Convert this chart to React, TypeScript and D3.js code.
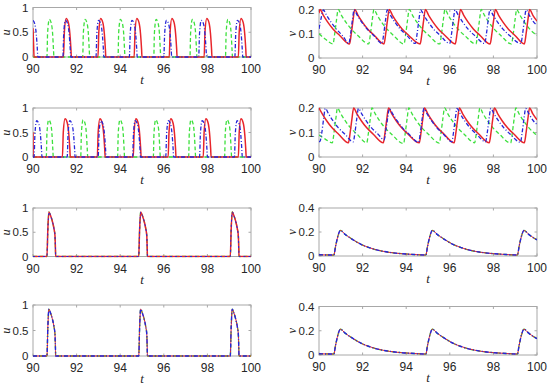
import * as d3 from "d3";

type Pt = [number, number];

// axis ticks
const tTicks = [90, 92, 94, 96, 98, 100];
const uTicks = [0, 0.5, 1];
const vTicksA = [0, 0.1, 0.2];
const vTicksB = [0, 0.2, 0.4];

// row 1 : u
const u1Red: Pt[] = [
  [90, 0.58], [90.03, 0.2], [90.05, 0],
  [91.4, 0], [91.44, 0.51], [91.52, 0.78], [91.62, 0.7], [91.69, 0.48], [91.74, 0.16], [91.76, 0],
  [92.98, 0], [93.02, 0.51], [93.1, 0.78], [93.2, 0.7], [93.27, 0.48], [93.32, 0.16], [93.34, 0],
  [94.64, 0], [94.68, 0.51], [94.76, 0.78], [94.86, 0.7], [94.93, 0.48], [94.98, 0.16], [95.0, 0],
  [96.25, 0], [96.29, 0.51], [96.37, 0.78], [96.47, 0.7], [96.54, 0.48], [96.59, 0.16], [96.61, 0],
  [97.85, 0], [97.89, 0.51], [97.97, 0.78], [98.07, 0.7], [98.14, 0.48], [98.19, 0.16], [98.21, 0],
  [99.42, 0], [99.46, 0.51], [99.54, 0.78], [99.64, 0.7], [99.71, 0.48], [99.76, 0.16], [99.78, 0],
  [100, 0],
];
const u1Blue: Pt[] = [
  [90, 0.74], [90.08, 0.67], [90.15, 0.46], [90.2, 0.15], [90.22, 0],
  [91.37, 0], [91.41, 0.48], [91.49, 0.74], [91.59, 0.67], [91.66, 0.46], [91.71, 0.15], [91.73, 0],
  [92.89, 0], [92.93, 0.48], [93.01, 0.74], [93.11, 0.67], [93.18, 0.46], [93.23, 0.15], [93.25, 0],
  [94.42, 0], [94.46, 0.48], [94.54, 0.74], [94.64, 0.67], [94.71, 0.46], [94.76, 0.15], [94.78, 0],
  [96.0, 0], [96.04, 0.48], [96.12, 0.74], [96.22, 0.67], [96.29, 0.46], [96.34, 0.15], [96.36, 0],
  [97.6, 0], [97.64, 0.48], [97.72, 0.74], [97.82, 0.67], [97.89, 0.46], [97.94, 0.15], [97.96, 0],
  [99.26, 0], [99.3, 0.48], [99.38, 0.74], [99.48, 0.67], [99.55, 0.46], [99.6, 0.15], [99.62, 0],
  [100, 0],
];
const u1Green: Pt[] = [
  [90, 0],
  [90.64, 0], [90.67, 0.49], [90.75, 0.76], [90.84, 0.68], [90.9, 0.47], [90.94, 0.15], [90.96, 0],
  [92.28, 0], [92.31, 0.49], [92.39, 0.76], [92.48, 0.68], [92.54, 0.47], [92.58, 0.15], [92.6, 0],
  [93.9, 0], [93.93, 0.49], [94.01, 0.76], [94.1, 0.68], [94.16, 0.47], [94.2, 0.15], [94.22, 0],
  [95.54, 0], [95.57, 0.49], [95.65, 0.76], [95.74, 0.68], [95.8, 0.47], [95.84, 0.15], [95.86, 0],
  [97.2, 0], [97.23, 0.49], [97.31, 0.76], [97.4, 0.68], [97.46, 0.47], [97.5, 0.15], [97.52, 0],
  [98.83, 0], [98.86, 0.49], [98.94, 0.76], [99.03, 0.68], [99.09, 0.47], [99.13, 0.15], [99.15, 0],
  [100, 0],
];

// row 1 : v
const v1Red: Pt[] = [
  [90, 0.185], [90.05, 0.2], [90.2, 0.176], [90.4, 0.148], [90.65, 0.119], [90.95, 0.093],
  [91.4, 0.058], [91.48, 0.1], [91.56, 0.155], [91.64, 0.2], [91.79, 0.176], [91.99, 0.148], [92.24, 0.119], [92.54, 0.093],
  [92.98, 0.058], [93.06, 0.1], [93.14, 0.155], [93.22, 0.2], [93.37, 0.176], [93.57, 0.148], [93.82, 0.119], [94.12, 0.093],
  [94.64, 0.058], [94.72, 0.1], [94.8, 0.155], [94.88, 0.2], [95.03, 0.176], [95.23, 0.148], [95.48, 0.119], [95.78, 0.093],
  [96.25, 0.058], [96.33, 0.1], [96.41, 0.155], [96.49, 0.2], [96.64, 0.176], [96.84, 0.148], [97.09, 0.119], [97.39, 0.093],
  [97.85, 0.058], [97.93, 0.1], [98.01, 0.155], [98.09, 0.2], [98.24, 0.176], [98.44, 0.148], [98.69, 0.119], [98.99, 0.093],
  [99.42, 0.058], [99.5, 0.1], [99.58, 0.155], [99.66, 0.2], [99.81, 0.176], [100, 0.152],
];
const v1Blue: Pt[] = [
  [90, 0.12], [90.1, 0.165], [90.2, 0.198], [90.35, 0.176], [90.55, 0.148], [90.8, 0.119], [91.1, 0.09],
  [91.37, 0.06], [91.45, 0.1], [91.53, 0.155], [91.61, 0.198], [91.76, 0.176], [91.96, 0.148], [92.21, 0.119], [92.51, 0.093],
  [92.89, 0.06], [92.97, 0.1], [93.05, 0.155], [93.13, 0.198], [93.28, 0.176], [93.48, 0.148], [93.73, 0.119], [94.03, 0.093],
  [94.42, 0.06], [94.5, 0.1], [94.58, 0.155], [94.66, 0.198], [94.81, 0.176], [95.01, 0.148], [95.26, 0.119], [95.56, 0.093],
  [96.0, 0.06], [96.08, 0.1], [96.16, 0.155], [96.24, 0.198], [96.39, 0.176], [96.59, 0.148], [96.84, 0.119], [97.14, 0.093],
  [97.6, 0.06], [97.68, 0.1], [97.76, 0.155], [97.84, 0.198], [97.99, 0.176], [98.19, 0.148], [98.44, 0.119], [98.74, 0.093],
  [99.26, 0.06], [99.34, 0.1], [99.42, 0.155], [99.5, 0.198], [99.65, 0.176], [99.85, 0.148], [100, 0.135],
];
const v1Green: Pt[] = [
  [90, 0.1], [90.3, 0.077],
  [90.64, 0.058], [90.72, 0.1], [90.8, 0.155], [90.88, 0.2], [91.03, 0.176], [91.23, 0.148], [91.48, 0.119], [91.78, 0.093],
  [92.28, 0.058], [92.36, 0.1], [92.44, 0.155], [92.52, 0.2], [92.67, 0.176], [92.87, 0.148], [93.12, 0.119], [93.42, 0.093],
  [93.9, 0.058], [93.98, 0.1], [94.06, 0.155], [94.14, 0.2], [94.29, 0.176], [94.49, 0.148], [94.74, 0.119], [95.04, 0.093],
  [95.54, 0.058], [95.62, 0.1], [95.7, 0.155], [95.78, 0.2], [95.93, 0.176], [96.13, 0.148], [96.38, 0.119], [96.68, 0.093],
  [97.2, 0.058], [97.28, 0.1], [97.36, 0.155], [97.44, 0.2], [97.59, 0.176], [97.79, 0.148], [98.04, 0.119], [98.34, 0.093],
  [98.83, 0.058], [98.91, 0.1], [98.99, 0.155], [99.07, 0.2], [99.22, 0.176], [99.42, 0.148], [99.67, 0.119], [100, 0.093],
];

// row 2 : u
const u2Red: Pt[] = [
  [90, 0.5], [90.01, 0],
  [91.35, 0], [91.39, 0.51], [91.47, 0.78], [91.57, 0.7], [91.64, 0.48], [91.69, 0.16], [91.71, 0],
  [92.95, 0], [92.99, 0.51], [93.07, 0.78], [93.17, 0.7], [93.24, 0.48], [93.29, 0.16], [93.31, 0],
  [94.6, 0], [94.64, 0.51], [94.72, 0.78], [94.82, 0.7], [94.89, 0.48], [94.94, 0.16], [94.96, 0],
  [96.2, 0], [96.24, 0.51], [96.32, 0.78], [96.42, 0.7], [96.49, 0.48], [96.54, 0.16], [96.56, 0],
  [97.81, 0], [97.85, 0.51], [97.93, 0.78], [98.03, 0.7], [98.1, 0.48], [98.15, 0.16], [98.17, 0],
  [99.42, 0], [99.46, 0.51], [99.54, 0.78], [99.64, 0.7], [99.71, 0.48], [99.76, 0.16], [99.78, 0],
  [100, 0],
];
const u2Blue: Pt[] = [
  [90, 0],
  [90.05, 0], [90.09, 0.48], [90.17, 0.74], [90.27, 0.67], [90.34, 0.46], [90.39, 0.15], [90.41, 0],
  [91.57, 0], [91.61, 0.48], [91.69, 0.74], [91.79, 0.67], [91.86, 0.46], [91.91, 0.15], [91.93, 0],
  [92.99, 0], [93.03, 0.48], [93.11, 0.74], [93.21, 0.67], [93.28, 0.46], [93.33, 0.15], [93.35, 0],
  [94.57, 0], [94.61, 0.48], [94.69, 0.74], [94.79, 0.67], [94.86, 0.46], [94.91, 0.15], [94.93, 0],
  [96.09, 0], [96.13, 0.48], [96.21, 0.74], [96.31, 0.67], [96.38, 0.46], [96.43, 0.15], [96.45, 0],
  [97.64, 0], [97.68, 0.48], [97.76, 0.74], [97.86, 0.67], [97.93, 0.46], [97.98, 0.15], [98.0, 0],
  [99.24, 0], [99.28, 0.48], [99.36, 0.74], [99.46, 0.67], [99.53, 0.46], [99.58, 0.15], [99.6, 0],
  [100, 0],
];
const u2Green: Pt[] = [
  [90, 0],
  [90.61, 0], [90.64, 0.49], [90.72, 0.76], [90.81, 0.68], [90.87, 0.47], [90.91, 0.15], [90.93, 0],
  [92.19, 0], [92.22, 0.49], [92.3, 0.76], [92.39, 0.68], [92.45, 0.47], [92.49, 0.15], [92.51, 0],
  [93.88, 0], [93.91, 0.49], [93.99, 0.76], [94.08, 0.68], [94.14, 0.47], [94.18, 0.15], [94.2, 0],
  [95.52, 0], [95.55, 0.49], [95.63, 0.76], [95.72, 0.68], [95.78, 0.47], [95.82, 0.15], [95.84, 0],
  [97.14, 0], [97.17, 0.49], [97.25, 0.76], [97.34, 0.68], [97.4, 0.47], [97.44, 0.15], [97.46, 0],
  [98.79, 0], [98.82, 0.49], [98.9, 0.76], [98.99, 0.68], [99.05, 0.47], [99.09, 0.15], [99.11, 0],
  [100, 0],
];

// row 2 : v
const v2Red: Pt[] = [
  [90, 0.2], [90.15, 0.176], [90.35, 0.148], [90.6, 0.119], [90.9, 0.093],
  [91.35, 0.058], [91.43, 0.1], [91.51, 0.155], [91.59, 0.2], [91.74, 0.176], [91.94, 0.148], [92.19, 0.119], [92.49, 0.093],
  [92.95, 0.058], [93.03, 0.1], [93.11, 0.155], [93.19, 0.2], [93.34, 0.176], [93.54, 0.148], [93.79, 0.119], [94.09, 0.093],
  [94.6, 0.058], [94.68, 0.1], [94.76, 0.155], [94.84, 0.2], [94.99, 0.176], [95.19, 0.148], [95.44, 0.119], [95.74, 0.093],
  [96.2, 0.058], [96.28, 0.1], [96.36, 0.155], [96.44, 0.2], [96.59, 0.176], [96.79, 0.148], [97.04, 0.119], [97.34, 0.093],
  [97.81, 0.058], [97.89, 0.1], [97.97, 0.155], [98.05, 0.2], [98.2, 0.176], [98.4, 0.148], [98.65, 0.119], [98.95, 0.093],
  [99.42, 0.058], [99.5, 0.1], [99.58, 0.155], [99.66, 0.2], [99.81, 0.176], [100, 0.152],
];
const v2Blue: Pt[] = [
  [90, 0.062], [90.05, 0.065], [90.13, 0.1], [90.21, 0.155], [90.29, 0.198], [90.44, 0.176], [90.64, 0.148], [90.89, 0.119], [91.19, 0.093],
  [91.57, 0.062], [91.65, 0.1], [91.73, 0.155], [91.81, 0.198], [91.96, 0.176], [92.16, 0.148], [92.41, 0.119], [92.71, 0.093],
  [92.99, 0.07], [93.07, 0.11], [93.15, 0.16], [93.23, 0.198], [93.38, 0.176], [93.58, 0.148], [93.83, 0.119], [94.13, 0.093],
  [94.57, 0.06], [94.65, 0.1], [94.73, 0.155], [94.81, 0.198], [94.96, 0.176], [95.16, 0.148], [95.41, 0.119], [95.71, 0.093],
  [96.09, 0.062], [96.17, 0.1], [96.25, 0.155], [96.33, 0.198], [96.48, 0.176], [96.68, 0.148], [96.93, 0.119], [97.23, 0.093],
  [97.64, 0.062], [97.72, 0.1], [97.8, 0.155], [97.88, 0.198], [98.03, 0.176], [98.23, 0.148], [98.48, 0.119], [98.78, 0.093],
  [99.24, 0.06], [99.32, 0.1], [99.4, 0.155], [99.48, 0.198], [99.63, 0.176], [99.83, 0.148], [100, 0.133],
];
const v2Green: Pt[] = [
  [90, 0.09], [90.3, 0.072],
  [90.61, 0.058], [90.69, 0.1], [90.77, 0.155], [90.85, 0.2], [91.0, 0.176], [91.2, 0.148], [91.45, 0.119], [91.75, 0.093],
  [92.19, 0.058], [92.27, 0.1], [92.35, 0.155], [92.43, 0.2], [92.58, 0.176], [92.78, 0.148], [93.03, 0.119], [93.33, 0.093],
  [93.88, 0.055], [93.96, 0.1], [94.04, 0.155], [94.12, 0.2], [94.27, 0.176], [94.47, 0.148], [94.72, 0.119], [95.02, 0.093],
  [95.52, 0.057], [95.6, 0.1], [95.68, 0.155], [95.76, 0.2], [95.91, 0.176], [96.11, 0.148], [96.36, 0.119], [96.66, 0.093],
  [97.14, 0.058], [97.22, 0.1], [97.3, 0.155], [97.38, 0.2], [97.53, 0.176], [97.73, 0.148], [97.98, 0.119], [98.28, 0.093],
  [98.79, 0.057], [98.87, 0.1], [98.95, 0.155], [99.03, 0.2], [99.18, 0.176], [99.38, 0.148], [99.63, 0.119], [99.93, 0.093], [100, 0.088],
];

// rows 3-4 : synchronised u and v (all three curves coincide)
const uSync: Pt[] = [
  [90, 0],
  [90.64, 0], [90.68, 0.55], [90.73, 0.92], [90.8, 0.85], [90.88, 0.74], [90.96, 0.58], [91.01, 0.42], [91.03, 0.15], [91.04, 0],
  [94.85, 0], [94.89, 0.55], [94.94, 0.92], [95.01, 0.85], [95.09, 0.74], [95.17, 0.58], [95.22, 0.42], [95.24, 0.15], [95.25, 0],
  [99.05, 0], [99.09, 0.55], [99.14, 0.92], [99.21, 0.85], [99.29, 0.74], [99.37, 0.58], [99.42, 0.42], [99.44, 0.15], [99.45, 0],
  [100, 0],
];
const vSync: Pt[] = [
  [90, 0.01], [90.68, 0.008], [90.76, 0.08], [90.86, 0.16], [90.98, 0.213],
  [91.2, 0.18], [91.48, 0.145], [91.95, 0.095], [92.3, 0.07], [92.6, 0.053], [93.2, 0.031], [93.8, 0.019], [94.4, 0.012], [94.9, 0.008],
  [94.98, 0.08], [95.08, 0.16], [95.2, 0.213],
  [95.42, 0.18], [95.7, 0.145], [96.17, 0.095], [96.52, 0.07], [96.82, 0.053], [97.42, 0.031], [98.02, 0.019], [98.62, 0.012], [99.1, 0.008],
  [99.18, 0.08], [99.28, 0.16], [99.4, 0.213], [99.62, 0.18], [99.9, 0.145], [100, 0.135],
];

interface Style {
  color: string;
  width: number;
  dash?: string;
}

const RED: Style = { color: "#e8252b", width: 1.5 };
const BLUE: Style = { color: "#2626d9", width: 1.3, dash: "4,2,1,2" };
const GREEN: Style = { color: "#3de03d", width: 1.3, dash: "4,2.5" };

interface Box {
  x0: number;
  x1: number;
  y0: number;
  y1: number;
}

interface PanelProps {
  id: string;
  box: Box;
  yMax: number;
  yTicks: number[];
  yLabel: string;
  lines: { data: Pt[]; style: Style }[];
}

const AXIS = "#a8a8a8";
const TEXT = "#262626";
const SANS = "'Liberation Sans', Arial, Helvetica, sans-serif";
const SERIF = "'Liberation Serif', 'Times New Roman', serif";

function Panel({ id, box, yMax, yTicks, yLabel, lines }: PanelProps) {
  const x = d3.scaleLinear().domain([90, 100]).range([box.x0, box.x1]);
  const y = d3.scaleLinear().domain([0, yMax]).range([box.y1, box.y0]);
  const line = d3
    .line<Pt>()
    .x((d) => x(d[0]))
    .y((d) => y(d[1]))
    .curve(d3.curveMonotoneX);
  const tl = 2.5;

  return (
    <g>
      <defs>
        <clipPath id={id}>
          <rect x={box.x0} y={box.y0 - 1} width={box.x1 - box.x0} height={box.y1 - box.y0 + 2} />
        </clipPath>
      </defs>
      <rect
        x={box.x0}
        y={box.y0}
        width={box.x1 - box.x0}
        height={box.y1 - box.y0}
        fill="white"
        stroke={AXIS}
        strokeWidth={1}
      />
      {/* ticks, inward on all four sides */}
      {tTicks.map((t) => (
        <g key={"xt" + t}>
          <line x1={x(t)} x2={x(t)} y1={box.y1} y2={box.y1 - tl} stroke={AXIS} />
          <line x1={x(t)} x2={x(t)} y1={box.y0} y2={box.y0 + tl} stroke={AXIS} />
          <text
            x={x(t)}
            y={box.y1 + 16}
            textAnchor="middle"
            fontFamily={SANS}
            fontSize={12}
            fill={TEXT}
          >
            {t}
          </text>
        </g>
      ))}
      {yTicks.map((v) => (
        <g key={"yt" + v}>
          <line x1={box.x0} x2={box.x0 + tl} y1={y(v)} y2={y(v)} stroke={AXIS} />
          <line x1={box.x1} x2={box.x1 - tl} y1={y(v)} y2={y(v)} stroke={AXIS} />
          <text
            x={box.x0 - 4.5}
            y={y(v) + 4}
            textAnchor="end"
            fontFamily={SANS}
            fontSize={11.5}
            fill={TEXT}
          >
            {String(v)}
          </text>
        </g>
      ))}
      <g clipPath={`url(#${id})`}>
        {lines.map((l, i) => (
          <path
            key={i}
            d={line(l.data) || ""}
            fill="none"
            stroke={l.style.color}
            strokeWidth={l.style.width}
            strokeDasharray={l.style.dash}
            strokeLinejoin="round"
          />
        ))}
      </g>
      <text
        x={(box.x0 + box.x1) / 2}
        y={box.y1 + 27}
        textAnchor="middle"
        fontFamily={SERIF}
        fontStyle="italic"
        fontSize={13}
        fill={TEXT}
      >
        t
      </text>
      <text
        transform={`translate(${box.x0 - 23},${(box.y0 + box.y1) / 2}) rotate(-90)`}
        textAnchor="middle"
        fontFamily={SERIF}
        fontStyle="italic"
        fontSize={12.5}
        fill={TEXT}
      >
        {yLabel}
      </text>
    </g>
  );
}

const L = { x0: 33, x1: 251 };
const R = { x0: 319, x1: 537 };

export default function App() {
  return (
    <svg
      width={550}
      height={389}
      style={{ position: "absolute", left: 0, top: 0, background: "white" }}
    >
      <Panel
        id="pa"
        box={{ ...L, y0: 7.5, y1: 57 }}
        yMax={1}
        yTicks={uTicks}
        yLabel="u"
        lines={[
          { data: u1Green, style: GREEN },
          { data: u1Red, style: RED },
          { data: u1Blue, style: BLUE },
        ]}
      />
      <Panel
        id="pb"
        box={{ ...R, y0: 9.5, y1: 58 }}
        yMax={0.2}
        yTicks={vTicksA}
        yLabel="v"
        lines={[
          { data: v1Green, style: GREEN },
          { data: v1Red, style: RED },
          { data: v1Blue, style: BLUE },
        ]}
      />
      <Panel
        id="pc"
        box={{ ...L, y0: 108, y1: 157 }}
        yMax={1}
        yTicks={uTicks}
        yLabel="u"
        lines={[
          { data: u2Green, style: GREEN },
          { data: u2Red, style: RED },
          { data: u2Blue, style: BLUE },
        ]}
      />
      <Panel
        id="pd"
        box={{ ...R, y0: 108, y1: 157 }}
        yMax={0.2}
        yTicks={vTicksA}
        yLabel="v"
        lines={[
          { data: v2Green, style: GREEN },
          { data: v2Red, style: RED },
          { data: v2Blue, style: BLUE },
        ]}
      />
      <Panel
        id="pe"
        box={{ ...L, y0: 208, y1: 256.5 }}
        yMax={1}
        yTicks={uTicks}
        yLabel="u"
        lines={[
          { data: uSync, style: GREEN },
          { data: uSync, style: RED },
          { data: uSync, style: { ...BLUE, width: 1, dash: "2,3" } },
        ]}
      />
      <Panel
        id="pf"
        box={{ ...R, y0: 208, y1: 256 }}
        yMax={0.4}
        yTicks={vTicksB}
        yLabel="v"
        lines={[
          { data: vSync, style: GREEN },
          { data: vSync, style: { ...RED, width: 1 } },
          { data: vSync, style: { ...BLUE, width: 1.4 } },
        ]}
      />
      <Panel
        id="pg"
        box={{ ...L, y0: 305, y1: 356 }}
        yMax={1}
        yTicks={uTicks}
        yLabel="u"
        lines={[
          { data: uSync, style: GREEN },
          { data: uSync, style: { ...RED, width: 1 } },
          { data: uSync, style: { ...BLUE, width: 1.4 } },
        ]}
      />
      <Panel
        id="ph"
        box={{ ...R, y0: 306.5, y1: 355 }}
        yMax={0.4}
        yTicks={vTicksB}
        yLabel="v"
        lines={[
          { data: vSync, style: GREEN },
          { data: vSync, style: { ...RED, width: 1 } },
          { data: vSync, style: { ...BLUE, width: 1.4 } },
        ]}
      />
    </svg>
  );
}
